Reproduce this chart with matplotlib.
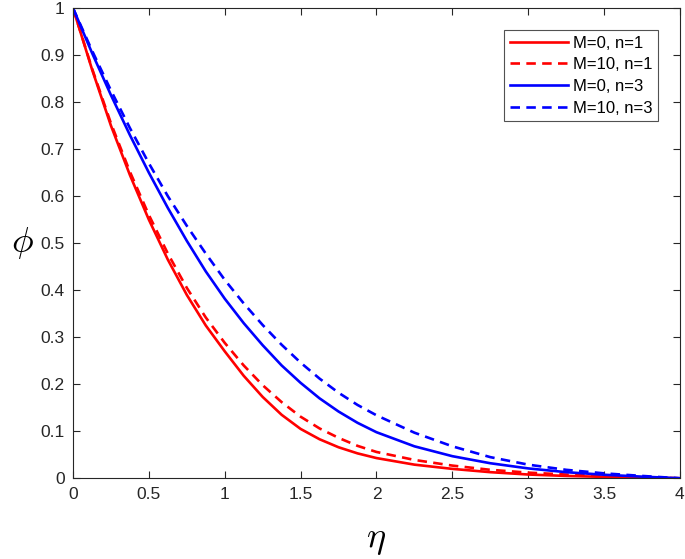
# Concentration profiles phi(eta) for M and n values

import numpy as np
import matplotlib
matplotlib.use("Agg")
import matplotlib.pyplot as plt

plt.rcParams["font.family"] = ["Liberation Sans", "DejaVu Sans"]
plt.rcParams["mathtext.fontset"] = "cm"

eta = [0, 0.125, 0.25, 0.375, 0.5, 0.625, 0.75, 0.875, 1.0, 1.125, 1.25, 1.375, 1.5,
       1.625, 1.75, 1.875, 2.0, 2.25, 2.5, 2.75, 3.0, 3.25, 3.5, 3.75, 4.0]

phi_m0_n1 = [1, 0.87, 0.75, 0.645, 0.55, 0.465, 0.39, 0.325, 0.27, 0.218, 0.173, 0.135, 0.105,
             0.083, 0.066, 0.053, 0.043, 0.029, 0.02, 0.013, 0.008, 0.005, 0.003, 0.0013, 0]
phi_m10_n1 = [1, 0.872, 0.755, 0.652, 0.56, 0.478, 0.405, 0.342, 0.288, 0.24, 0.198, 0.162, 0.131,
              0.106, 0.086, 0.069, 0.056, 0.039, 0.027, 0.018, 0.012, 0.008, 0.0045, 0.002, 0]
phi_m0_n3 = [1, 0.905, 0.815, 0.73, 0.65, 0.575, 0.505, 0.44, 0.382, 0.33, 0.283, 0.24, 0.203,
             0.17, 0.142, 0.118, 0.098, 0.068, 0.047, 0.032, 0.021, 0.013, 0.0075, 0.0035, 0]
phi_m10_n3 = [1, 0.91, 0.825, 0.745, 0.67, 0.6, 0.537, 0.478, 0.422, 0.372, 0.326, 0.284, 0.246,
              0.212, 0.182, 0.156, 0.134, 0.097, 0.068, 0.045, 0.029, 0.018, 0.0105, 0.005, 0]

x_ticks = [0, 0.5, 1, 1.5, 2, 2.5, 3, 3.5, 4]
x_tick_labels = ["0", "0.5", "1", "1.5", "2", "2.5", "3", "3.5", "4"]
y_ticks = [0, 0.1, 0.2, 0.3, 0.4, 0.5, 0.6, 0.7, 0.8, 0.9, 1]
y_tick_labels = ["0", "0.1", "0.2", "0.3", "0.4", "0.5", "0.6", "0.7", "0.8", "0.9", "1"]

fig = plt.figure(figsize=(6.85, 5.59), dpi=100)
ax = fig.add_axes([0.1066, 0.1444, 0.886, 0.841])

dash = (0, (3.6, 2.4))
lw = 1.9
ax.plot(eta, phi_m0_n1, color="#ff0000", lw=lw, label="M=0, n=1")
ax.plot(eta, phi_m10_n1, color="#ff0000", lw=lw, linestyle=dash, label="M=10, n=1")
ax.plot(eta, phi_m0_n3, color="#0000ff", lw=lw, label="M=0, n=3")
ax.plot(eta, phi_m10_n3, color="#0000ff", lw=lw, linestyle=dash, label="M=10, n=3")

ax.set_xlim(0, 4)
ax.set_ylim(0, 1)
ax.set_xticks(x_ticks)
ax.set_xticklabels(x_tick_labels)
ax.set_yticks(y_ticks)
ax.set_yticklabels(y_tick_labels)

ax.tick_params(direction="in", length=5, width=0.8, colors="#262626",
               labelsize=12.5, top=True, right=True, pad=6)
for s in ax.spines.values():
  s.set_color("#262626")
  s.set_linewidth(0.8)

ax.set_xlabel(r"$\eta$", fontsize=26, va="center")
ax.set_ylabel(r"$\phi$", fontsize=26, rotation=0, ha="center", va="center")
ax.xaxis.set_label_coords(0.5, -0.13)
ax.yaxis.set_label_coords(-0.083, 0.5)

leg = ax.legend(loc="upper right", fontsize=12, frameon=True, fancybox=False,
                edgecolor="#262626", handlelength=3.5, borderpad=0.35,
                labelspacing=0.4, handletextpad=0.3, borderaxespad=1.3)
leg.get_frame().set_linewidth(0.8)

fig.savefig("out.png", dpi=100)
